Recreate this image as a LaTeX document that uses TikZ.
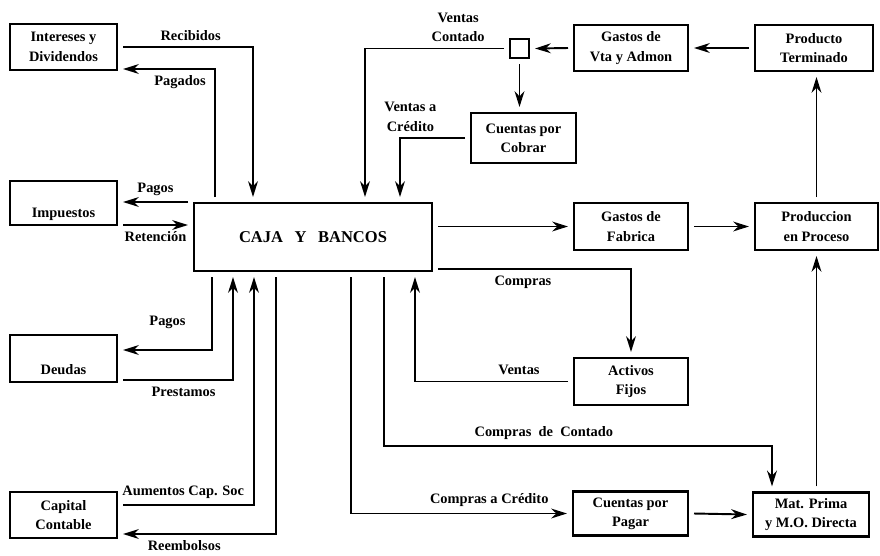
\documentclass[tikz,border=0pt]{standalone}
\usepackage{fontspec}
\setmainfont{Liberation Serif}
\usetikzlibrary{arrows.meta,positioning,calc}

\begin{document}
\begin{tikzpicture}[
    font=\bfseries\fontsize{8.2}{11}\selectfont,
    cuenta/.style={draw, line width=1.6pt, align=center, minimum height=0.92cm, minimum width=2.2cm, inner xsep=2pt, outer sep=0.12cm},
    arr/.style={-{Stealth[length=9pt,width=5.6pt]}, line width=1.1pt}
]
    \useasboundingbox (0,0) rectangle (17.6,-11.1);

    \node[cuenta, minimum width=2.14cm] (intereses) at (1.27,-0.94) {Intereses y\\Dividendos};
    \node[cuenta, minimum width=2.14cm, minimum height=0.88cm, text height=18pt, text depth=1pt, inner ysep=3pt] (impuestos) at (1.27,-4.06) {Impuestos};
    \node[cuenta, minimum width=2.14cm, minimum height=0.94cm, text height=19.5pt, text depth=1pt, inner ysep=3pt] (deudas) at (1.27,-7.17) {Deudas};
    \node[cuenta, minimum width=2.14cm] (capital) at (1.27,-10.30) {Capital\\Contable};
    \node[cuenta, minimum width=4.76cm, minimum height=1.36cm, font=\bfseries\fontsize{9.4}{11}\selectfont] (caja) at (6.26,-4.74) {CAJA\hspace{0.7em}Y\hspace{0.7em}BANCOS};

    \node[draw, line width=1.1pt, minimum size=0.38cm, inner sep=0pt, outer sep=0.12cm] (cuadro) at (10.39,-0.97) {};
    \node[cuenta, minimum width=2.1cm, minimum height=1.0cm] (cobrar) at (10.47,-2.76) {Cuentas por\\Cobrar};
    \node[cuenta, minimum width=2.28cm] (vtaadmon) at (12.62,-0.96) {Gastos de\\Vta y Admon};
    \node[cuenta, minimum width=2.36cm] (terminado) at (16.28,-0.96) {Producto\\Terminado};
    \node[cuenta, minimum width=2.28cm, minimum height=0.94cm] (fabrica) at (12.62,-4.53) {Gastos de\\Fabrica};
    \node[cuenta, minimum width=2.46cm, minimum height=0.94cm] (proceso) at (16.33,-4.53) {Produccion\\en Proceso};
    \node[cuenta, minimum width=2.28cm, minimum height=0.94cm] (activos) at (12.62,-7.63) {Activos\\Fijos};
    \node[cuenta, minimum width=2.3cm, minimum height=0.86cm] (pagar) at (12.61,-10.27) {Cuentas por\\Pagar};
    \node[cuenta, minimum width=2.32cm, minimum height=0.86cm] (matprima) at (16.22,-10.29) {Mat. Prima\\y M.O. Directa};

    \draw[arr] (intereses.east) -| node[pos=0.26, above] {Recibidos} ([xshift=-1.2cm]caja.north);
    \draw[arr] ([xshift=-1.96cm]caja.north) |- node[pos=0.69, below] {Pagados} ([yshift=-0.44cm]intereses.east);
    \coordinate (pagI) at ([yshift=-0.1cm]caja.north west);
    \draw[arr] (pagI) -- node[above] {Pagos} (pagI -| impuestos.east);
    \coordinate (retI) at ([yshift=-0.44cm]impuestos.east);
    \draw[arr] (retI) -- node[below] {Retención} (retI -| caja.west);
    \draw[arr] ([xshift=-2.02cm]caja.south) |- node[pos=0.75, above=0.3cm] {Pagos} ([yshift=0.17cm]deudas.east);
    \draw[arr] ([yshift=-0.43cm]deudas.east) -| node[pos=0.275, below] {Prestamos} ([xshift=-1.6cm]caja.south);
    \draw[arr] ([yshift=0.2cm]capital.east) -| node[pos=0.23, above] {Aumentos Cap. Soc} ([xshift=-1.18cm]caja.south);
    \draw[arr] ([xshift=-0.74cm]caja.south) |- node[pos=0.8, below] {Reembolsos} ([yshift=-0.38cm]capital.east);

    \draw[arr] (cuadro.west) -| node[pos=0.165, above, align=center] {Ventas\\Contado} ([xshift=1.04cm]caja.north);
    \draw[arr] (vtaadmon.west) -- (cuadro.east);
    \draw[arr] (cuadro.south) -- (cuadro.south |- cobrar.north);
    \draw[arr] (cobrar.west) -| node[pos=0.42, above, align=center] {Ventas a\\Crédito} ([xshift=1.74cm]caja.north);
    \draw[arr] (terminado.west) -- (vtaadmon.east);
    \draw[arr] (proceso.north) -- (proceso.north |- terminado.south);
    \draw[arr] (caja.east |- fabrica.west) -- (fabrica.west);
    \draw[arr] (fabrica.east) -- (proceso.west);
    \draw[arr] ([yshift=0.16cm]caja.south east) -| node[pos=0.22, below] {Compras} (activos.north);
    \draw[arr] (activos.west) -| node[pos=0.16, above] {Ventas} ([xshift=2.04cm]caja.south);
    \coordinate (ccA) at ([xshift=-0.78cm]matprima.north);
    \draw[arr] ([xshift=1.42cm]caja.south) |- node[pos=0.706, above] {Compras\hspace{0.5em}de\hspace{0.5em}Contado} ([yshift=0.8cm]ccA) -- (ccA);
    \draw[arr] ([xshift=0.76cm]caja.south) |- node[pos=0.82, above] {Compras a Crédito} (pagar.west);
    \draw[arr] (pagar.east) -- (matprima.west);
    \draw[arr] (proceso.south |- matprima.north) -- (proceso.south);
\end{tikzpicture}
\end{document}
